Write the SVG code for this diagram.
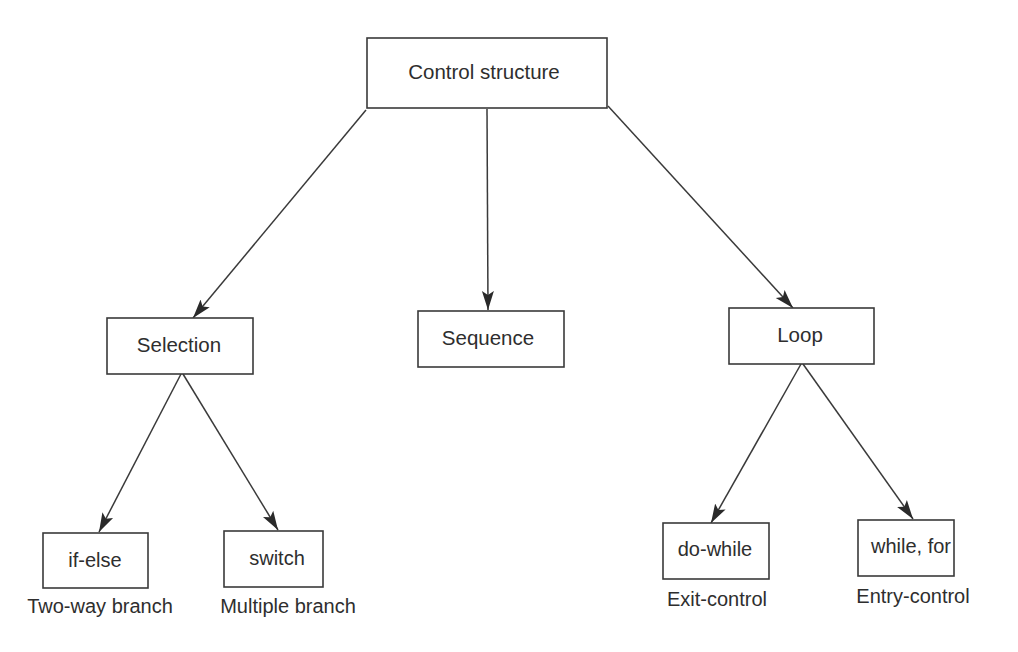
<svg xmlns="http://www.w3.org/2000/svg" width="1018" height="652" viewBox="0 0 1018 652">
  <style>
    .box { fill: #ffffff; stroke: #3a3a3a; stroke-width: 1.6; }
    .lbl { font-family: "Liberation Sans", Arial, sans-serif; font-size: 20px; fill: #2e2e2e; text-anchor: middle; }
    .big { font-size: 20.5px; }
    .edge { stroke: #3a3a3a; stroke-width: 1.5; fill: none; marker-end: url(#ah); }
  </style>
  <defs>
    <marker id="ah" markerUnits="userSpaceOnUse" markerWidth="20" markerHeight="16" viewBox="0 0 20 16" refX="19" refY="8" orient="auto">
      <path d="M0,2 L19,8 L0,14 L4,8 Z" fill="#2a2a2a"/>
    </marker>
  </defs>
  <rect width="1018" height="652" fill="#ffffff"/>

  <g id="connectors">
    <line class="edge" x1="366" y1="110" x2="193" y2="318"/>
    <line class="edge" x1="487" y1="109" x2="488" y2="310"/>
    <line class="edge" x1="608" y1="106" x2="793" y2="308"/>
    <line class="edge" x1="181" y1="374" x2="99" y2="532"/>
    <line class="edge" x1="183" y1="374" x2="278" y2="530"/>
    <line class="edge" x1="801" y1="364" x2="711" y2="523"/>
    <line class="edge" x1="803" y1="364" x2="913" y2="519"/>
  </g>

  <g id="control-structure">
    <rect class="box" x="367" y="38" width="240" height="70"/>
    <text class="lbl big" x="484" y="79">Control structure</text>
  </g>
  <g id="selection">
    <rect class="box" x="107" y="318" width="146" height="56"/>
    <text class="lbl big" x="179" y="352">Selection</text>
  </g>
  <g id="sequence">
    <rect class="box" x="418" y="311" width="146" height="56"/>
    <text class="lbl big" x="488" y="345">Sequence</text>
  </g>
  <g id="loop">
    <rect class="box" x="729" y="308" width="145" height="56"/>
    <text class="lbl big" x="800" y="342">Loop</text>
  </g>
  <g id="if-else">
    <rect class="box" x="43" y="533" width="105" height="55"/>
    <text class="lbl" x="95" y="567">if-else</text>
    <text class="lbl" x="100" y="613">Two-way branch</text>
  </g>
  <g id="switch">
    <rect class="box" x="224" y="531" width="99" height="56"/>
    <text class="lbl" x="277" y="565">switch</text>
    <text class="lbl" x="288" y="613">Multiple branch</text>
  </g>
  <g id="do-while">
    <rect class="box" x="663" y="523" width="106" height="56"/>
    <text class="lbl" x="715" y="556">do-while</text>
    <text class="lbl" x="717" y="606">Exit-control</text>
  </g>
  <g id="while-for">
    <rect class="box" x="858" y="520" width="96" height="56"/>
    <text class="lbl" x="911" y="553">while, for</text>
    <text class="lbl" x="913" y="603">Entry-control</text>
  </g>
</svg>
